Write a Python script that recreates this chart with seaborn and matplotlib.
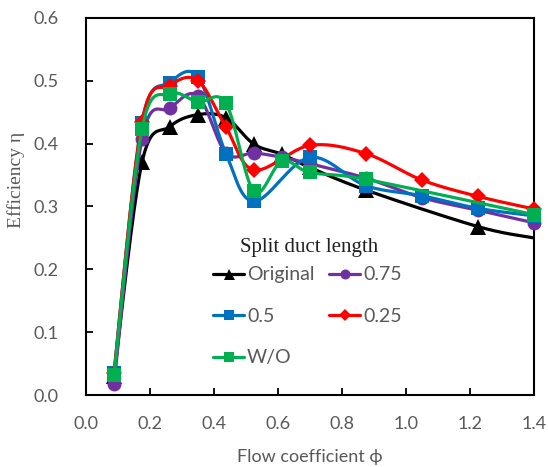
import numpy as np
import matplotlib
matplotlib.use("Agg")
import matplotlib.pyplot as plt
from matplotlib.lines import Line2D
import seaborn as sns

# Efficiency vs flow coefficient for several split-duct lengths
phi_original = [0.0875, 0.175, 0.2625, 0.35, 0.4375, 0.525, 0.6125, 0.7, 0.875, 1.225, 1.4]
eta_original = [0.030, 0.370, 0.427, 0.446, 0.441, 0.399, 0.383, 0.362, 0.326, 0.268, 0.250]

phi_075 = [0.0875, 0.175, 0.2625, 0.35, 0.4375, 0.525, 0.6125, 0.7, 0.875, 1.05, 1.225, 1.4]
eta_075 = [0.018, 0.407, 0.456, 0.476, 0.385, 0.385, 0.378, 0.368, 0.345, 0.314, 0.294, 0.274]

phi_050 = [0.0875, 0.175, 0.2625, 0.35, 0.4375, 0.525, 0.7, 0.875, 1.05, 1.225, 1.4]
eta_050 = [0.035, 0.433, 0.497, 0.506, 0.384, 0.308, 0.378, 0.333, 0.317, 0.297, 0.285]

phi_025 = [0.0875, 0.175, 0.2625, 0.35, 0.4375, 0.525, 0.7, 0.875, 1.05, 1.225, 1.4]
eta_025 = [0.035, 0.435, 0.492, 0.500, 0.426, 0.358, 0.397, 0.384, 0.342, 0.316, 0.296]

phi_wo = [0.0875, 0.175, 0.2625, 0.35, 0.4375, 0.525, 0.6125, 0.7, 0.875, 1.4]
eta_wo = [0.032, 0.423, 0.479, 0.466, 0.464, 0.324, 0.372, 0.354, 0.343, 0.287]

labels = ["Original", "0.75", "0.5", "0.25", "W/O"]
colors = ["#000000", "#7030A0", "#0070C0", "#FF0000", "#00B050"]
markers = ["^", "o", "s", "D", "s"]
msizes = [11, 10, 9.5, 8, 9.5]

xticks = [0.0, 0.2, 0.4, 0.6, 0.8, 1.0, 1.2, 1.4]
yticks = [0.0, 0.1, 0.2, 0.3, 0.4, 0.5, 0.6]


def smooth_curve(xs, ys, n=40):
    """Cubic Bezier curve through the points (Catmull-Rom style tangents)."""
    p = np.column_stack([xs, ys]).astype(float)
    ext = np.vstack([p[0], p, p[-1]])
    t = np.linspace(0, 1, n)[:, None]
    parts = []
    for i in range(len(p) - 1):
        p0, p1, p2, p3 = ext[i], ext[i + 1], ext[i + 2], ext[i + 3]
        c1 = p1 + (p2 - p0) / 6.0
        c2 = p2 - (p3 - p1) / 6.0
        seg = ((1 - t) ** 3) * p1 + 3 * ((1 - t) ** 2) * t * c1 + 3 * (1 - t) * t ** 2 * c2 + t ** 3 * p2
        parts.append(seg if i == 0 else seg[1:])
    return np.vstack(parts)


sns.set_theme(style="white")
sans = ["Lato", "DejaVu Sans"]
serif = ["Liberation Serif", "DejaVu Serif"]
grey = "#595959"

fig = plt.figure(figsize=(5.48, 4.67), dpi=100)
ax = fig.add_axes([0.157, 0.154, 0.817, 0.808])

series = [
    (phi_original, eta_original, 1),   # last point drawn without marker
    (phi_075, eta_075, 0),
    (phi_050, eta_050, 0),
    (phi_025, eta_025, 0),
    (phi_wo, eta_wo, 0),
]

handles = []
for i, ((xs, ys, skip_last), lab, col, mk, ms) in enumerate(zip(series, labels, colors, markers, msizes)):
    curve = smooth_curve(xs, ys)
    sns.lineplot(x=curve[:, 0], y=curve[:, 1], sort=False, estimator=None,
                 color=col, linewidth=2.3, ax=ax, zorder=2 + 2 * i)
    mx = xs[:len(xs) - skip_last]
    my = ys[:len(ys) - skip_last]
    ax.plot(mx, my, linestyle="none", marker=mk, markersize=ms, color=col,
            markeredgewidth=0, zorder=3 + 2 * i, clip_on=False)
    handles.append(Line2D([], [], color=col, linewidth=2.3, marker=mk,
                          markersize=ms * 0.72, markeredgewidth=0))

ax.set_xlim(0, 1.4)
ax.set_ylim(0, 0.6)
ax.set_xticks(xticks)
ax.set_yticks(yticks)
ax.set_xticklabels([f"{v:.1f}" for v in xticks], family=sans, fontsize=13, color=grey)
ax.set_yticklabels([f"{v:.1f}" for v in yticks], family=sans, fontsize=13, color=grey)
ax.tick_params(axis="x", direction="in", length=5, width=1.3, color="black", pad=15,
               bottom=True, top=False)
ax.tick_params(axis="y", direction="in", length=5, width=1.3, color="black", pad=20,
               left=True, right=False)
for sp in ax.spines.values():
    sp.set_visible(True)
    sp.set_color("black")
    sp.set_linewidth(1.5)

ax.set_xlabel("Flow coefficient \u03d5", family=sans, fontsize=13, color=grey)
ax.xaxis.set_label_coords(0.5, -0.143)
ax.set_ylabel("Efficiency \u03b7", family=serif, fontsize=14, color=grey)
ax.yaxis.set_label_coords(-0.137, 0.57)

order = [0, 2, 4, 1, 3]
leg = ax.legend([handles[k] for k in order], [labels[k] for k in order],
                ncol=2, loc="upper left", bbox_to_anchor=(0.2835, 0.341),
                frameon=False, borderpad=0, borderaxespad=0,
                prop={"family": sans, "size": 14},
                handlelength=1.6, handletextpad=0.15, columnspacing=0.75,
                labelspacing=1.26)
for t in leg.get_texts():
    t.set_color(grey)
ax.text(0.498, 0.392, "Split duct length", transform=ax.transAxes,
        ha="center", va="center", family=serif, fontsize=15, color="#202020")

fig.savefig("out.png", dpi=100)
